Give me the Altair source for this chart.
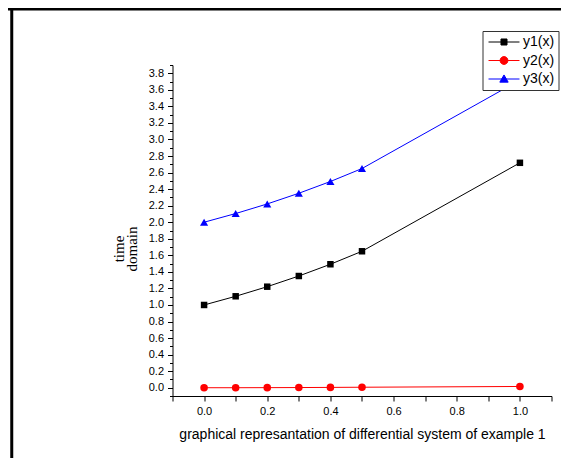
import altair as alt
import pandas as pd

# ---------------- data ----------------
x_vals = [0.0, 0.1, 0.2, 0.3, 0.4, 0.5, 1.0]
y1_vals = [1.0, 1.105, 1.221, 1.35, 1.492, 1.649, 2.718]
y2_vals = [0.0, 0.0, 0.001, 0.002, 0.004, 0.006, 0.015]
y3_vals = [2.0, 2.105, 2.221, 2.35, 2.492, 2.649, 3.718]

series_names = ["y1(x)", "y2(x)", "y3(x)"]
series_colors = ["#000000", "#ff0000", "#0000ff"]
marker_shapes = ["square", "circle", "triangle-up"]
marker_sizes = [42, 57, 66]

# legend symbols: a line with the marker on it (unit coords, scaled by sqrt(size)/2 = 4.5)
legend_shapes = [
    "M-3.44,0H3.44M-0.67,-0.67H0.67V0.67H-0.67Z",
    "M-3.44,0H3.44M-0.87,0A0.87,0.87 0 1,0 0.87,0A0.87,0.87 0 1,0 -0.87,0Z",
    "M-3.44,0H3.44M0,-0.9L0.93,0.7H-0.93Z",
]

x_major = [0.0, 0.2, 0.4, 0.6, 0.8, 1.0]
x_minor = [-0.1, 0.1, 0.3, 0.5, 0.7, 0.9, 1.1]
y_major = [0.0, 0.2, 0.4, 0.6, 0.8, 1.0, 1.2, 1.4, 1.6, 1.8, 2.0,
           2.2, 2.4, 2.6, 2.8, 3.0, 3.2, 3.4, 3.6, 3.8]
y_minor = [-0.1, 0.1, 0.3, 0.5, 0.7, 0.9, 1.1, 1.3, 1.5, 1.7, 1.9,
           2.1, 2.3, 2.5, 2.7, 2.9, 3.1, 3.3, 3.5, 3.7, 3.9]

x_title = "graphical represantation of differential system of example 1"
y_title = ["time", "domain"]

# ---------------- build table ----------------
rows = []
for name, ys in zip(series_names, [y1_vals, y2_vals, y3_vals]):
    for xv, yv in zip(x_vals, ys):
        rows.append({"x": xv, "value": yv, "series": name})
df = pd.DataFrame(rows)

W, H = 379, 331
PAD = {"left": 164.5, "top": 57, "right": 9.5, "bottom": 62}

xs = alt.Scale(domain=[-0.1, 1.1], nice=False, zero=False)
ys = alt.Scale(domain=[-0.1, 3.9], nice=False, zero=False)
color_scale = alt.Scale(domain=series_names, range=series_colors)

LAB = dict(labelFont="Liberation Sans", labelFontSize=11, labelColor="black",
           domainColor="black", tickColor="black", domainWidth=1, tickWidth=1,
           grid=False, labelFlush=False, labelOverlap=False)

x_major_axis = alt.Axis(values=x_major, format=".1f", tickSize=5, labelPadding=4,
                        orient="bottom", title=x_title, titleFont="Liberation Sans",
                        titleFontSize=14, titleFontWeight="normal", titleColor="black",
                        titleBaseline="alphabetic", titleY=42, **LAB)
y_major_axis = alt.Axis(values=y_major, format=".1f", tickSize=5, labelPadding=4,
                        orient="left", title=y_title, titleFont="Liberation Serif",
                        titleFontSize=15, titleFontWeight="normal", titleColor="black",
                        titleAngle=270, titleAlign="center", titleBaseline="alphabetic",
                        titleX=-49.5, titleY=183.5, titleLineHeight=13, **LAB)
x_minor_axis = alt.Axis(values=x_minor, tickSize=5, labels=False, domain=False,
                        orient="bottom", title=None, tickColor="black", tickWidth=1,
                        grid=False)
y_minor_axis = alt.Axis(values=y_minor, tickSize=3, labels=False, domain=False,
                        orient="left", title=None, tickColor="black", tickWidth=1,
                        grid=False)

legend_def = alt.Legend(title=None, orient="none", legendX=310, legendY=-34,
                        symbolSize=81, symbolStrokeWidth=1, symbolOpacity=1,
                        symbolOffset=10.5,
                        labelFont="Liberation Sans", labelFontSize=14, labelColor="black",
                        labelOffset=12, padding=4, rowPadding=4.5,
                        strokeColor="#333333", fillColor="white", labelLimit=0)

# legend + minor-tick axes (draws no data of its own)
legend_layer = alt.Chart(df).transform_filter("false").mark_point(filled=True, opacity=1).encode(
    x=alt.X("x:Q", scale=xs, axis=x_minor_axis),
    y=alt.Y("value:Q", scale=ys, axis=y_minor_axis),
    fill=alt.Fill("series:N", scale=color_scale, legend=legend_def),
    stroke=alt.Stroke("series:N", scale=color_scale, legend=legend_def),
    shape=alt.Shape("series:N", scale=alt.Scale(domain=series_names, range=legend_shapes),
                    legend=legend_def),
)

# frame lines of the original figure
frame_top = alt.Chart(alt.Data(values=[{}])).mark_rule(color="black", strokeWidth=3).encode(
    x=alt.value(-PAD["left"]), x2=alt.value(W + PAD["right"]), y=alt.value(-56))
frame_left = alt.Chart(alt.Data(values=[{}])).mark_rule(color="black", strokeWidth=3).encode(
    x=alt.value(-160.75), y=alt.value(-PAD["top"]), y2=alt.value(H + PAD["bottom"]))

line_layers = []
point_layers = []
for i, (name, col, shp, sz) in enumerate(zip(series_names, series_colors, marker_shapes, marker_sizes)):
    base = alt.Chart(df).transform_filter(alt.datum.series == name)
    line_layers.append(
        base.mark_line(strokeWidth=1, color=col).encode(
            x=alt.X("x:Q", scale=xs, axis=x_major_axis if i == 0 else None),
            y=alt.Y("value:Q", scale=ys, axis=y_major_axis if i == 0 else None),
        )
    )
    point_layers.append(
        base.mark_point(filled=True, shape=shp, size=sz, opacity=1, color=col).encode(
            x=alt.X("x:Q", scale=xs, axis=None),
            y=alt.Y("value:Q", scale=ys, axis=None),
        )
    )

chart = alt.layer(legend_layer, frame_top, frame_left, *line_layers, *point_layers).resolve_axis(
    x="independent", y="independent"
).properties(
    width=W, height=H,
    autosize=alt.AutoSizeParams(type="none"),
    padding=PAD,
    background="white",
).configure_view(stroke=None)

chart.save("out.html", embed_options={"renderer": "svg", "actions": False})
